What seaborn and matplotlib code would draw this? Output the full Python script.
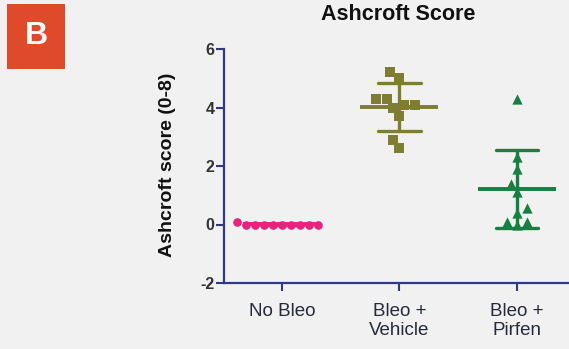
import matplotlib
matplotlib.use("Agg")
import matplotlib.pyplot as plt
from matplotlib.patches import Rectangle
import pandas as pd
import seaborn as sns

# Ashcroft fibrosis scores per animal
groups = ["No Bleo", "Bleo +\nVehicle", "Bleo +\nPirfen"]
no_bleo = [0.0, 0.0, 0.0, 0.0, 0.0, 0.08, 0.0, 0.0, 0.0, 0.0]
vehicle = [5.2, 5.0, 4.3, 4.3, 4.1, 4.1, 4.0, 3.7, 2.9, 2.6]
pirfen = [4.3, 2.3, 1.9, 1.4, 1.1, 0.55, 0.4, 0.1, 0.0, 0.1]
yticks = [-2, 0, 2, 4, 6]

colors = ["#e8237e", "#7e7d32", "#15803f"]
markers = ["o", "s", "^"]
sizes = [6.2, 7.6, 7.4]

df = pd.DataFrame({
    "group": [groups[0]] * len(no_bleo) + [groups[1]] * len(vehicle) + [groups[2]] * len(pirfen),
    "score": no_bleo + vehicle + pirfen,
})

bg = "#f1f1f1"
axis_col = "#2f3a86"

sns.set_theme(style="white")
plt.rcParams["font.family"] = ["Liberation Sans", "DejaVu Sans"]

fig = plt.figure(figsize=(5.69, 3.49), dpi=100, facecolor=bg)
ax = fig.add_axes([224 / 569, 1 - 283 / 349, 345 / 569, 234 / 349])
ax.set_facecolor(bg)

# mean line with SD whiskers
sns.pointplot(data=df, x="group", y="score", hue="group", order=groups,
              hue_order=groups, palette=colors, errorbar="sd", capsize=0.36,
              marker="_", markersize=56, markeredgewidth=2.8, linestyle="none",
              err_kws={"linewidth": 2.4}, legend=False, ax=ax)

# individual animals
for g, c, m, s in zip(groups, colors, markers, sizes):
    sns.swarmplot(data=df[df["group"] == g], x="group", y="score", order=groups,
                  color=c, marker=m, size=s, linewidth=0, zorder=3, ax=ax)

ax.set_xlim(-0.494, 2.443)
ax.set_ylim(-2, 6)
ax.set_yticks(yticks)
ax.set_yticklabels([str(v) for v in yticks], fontsize=11.5, fontweight="bold",
                   color="#333333")
ax.set_xticks(range(len(groups)))
ax.set_xticklabels(groups, fontsize=13.5, color="#262a3c", linespacing=1.15)
ax.set_xlabel("")
ax.set_ylabel("")

for side in ["top", "right"]:
    ax.spines[side].set_visible(False)
for side in ["left", "bottom"]:
    ax.spines[side].set_color(axis_col)
    ax.spines[side].set_linewidth(1.6)
ax.tick_params(axis="both", which="major", length=5.5, width=1.5,
               color=axis_col, left=True, bottom=True)
ax.tick_params(axis="y", pad=1.5)
ax.tick_params(axis="x", pad=9)

fig.text(398 / 569, 1 - 14 / 349, "Ashcroft Score", ha="center", va="center",
         fontsize=15.5, fontweight="bold", color="#111111")
fig.text(168 / 569, 1 - 165 / 349, "Ashcroft score (0-8)", ha="center",
         va="center", rotation=90, fontsize=14, fontweight="bold",
         color="#111111")

# panel badge
fig.patches.append(Rectangle((7 / 569, 1 - 69 / 349), 58 / 569, 65 / 349,
                             transform=fig.transFigure, facecolor="#df4a2b",
                             edgecolor="none"))
fig.text(36 / 569, 1 - 36 / 349, "B", ha="center", va="center",
         fontsize=23, fontweight="bold", color="white")

fig.savefig("out.png", dpi=100, facecolor=bg)
